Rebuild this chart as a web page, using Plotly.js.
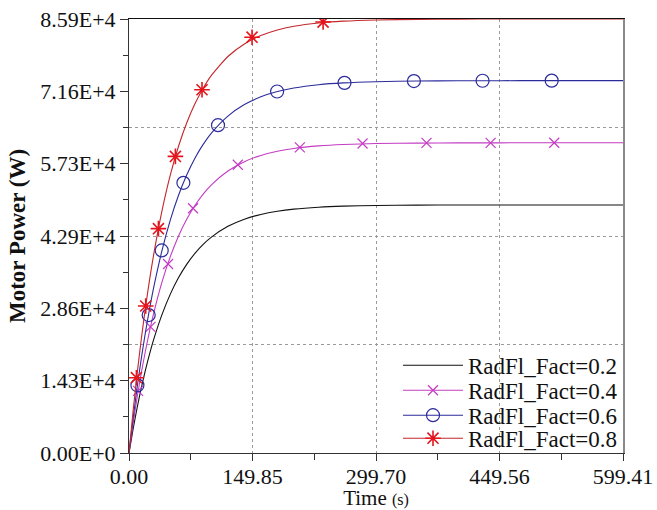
<!DOCTYPE html>
<html>
<head>
<meta charset="utf-8">
<script src="https://cdn.plot.ly/plotly-3.0.1.min.js"></script>
<style>
html,body{margin:0;padding:0;background:#fff;overflow:hidden;}
#chart{width:657px;height:510px;}
#chart svg text{font-family:"Liberation Serif",serif !important;}
</style>
</head>
<body>
<div id="chart"></div>
<script>
// ---- data ----
const seriesNames = ["RadFl_Fact=0.2", "RadFl_Fact=0.4", "RadFl_Fact=0.6", "RadFl_Fact=0.8"];
const time = [0,5,10,15,20,25,30,40,50,60,70,80,90,100,120,140,160,180,200,230,260,300,350,400,450,500,550,599.41];
const powerF02 = [0,4760,9060,12950,16450,19620,22480,27390,31400,34670,37330,39510,41280,42720,44860,46280,47220,47850,48270,48650,48860,48990,49060,49080,49100,49100,49100,49100];
const powerF04 = [0,5850,11130,15910,20240,24160,27700,33810,38810,42910,46260,49000,51250,53090,55830,57670,58900,59720,60280,60780,61060,61250,61340,61380,61390,61400,61400,61400];
const powerF06 = [0,6880,13130,18780,23910,28560,32770,40060,46050,50970,55020,58350,61080,63330,66690,68970,70500,71540,72240,72890,73250,73490,73620,73670,73690,73700,73700,73700];
const powerF08 = [0,8330,15860,22650,28790,34330,39330,47920,54940,60660,65310,69110,72210,74740,78480,80970,82620,83720,84450,85110,85470,85710,85830,85880,85890,85900,85900,85900];

const markTimeF04 = [11,26.1,47.4,77.7,132,207.3,283.4,361,438.8,516];
const markPowerF04 = [12300,24970,37400,48450,57050,60500,61250,61370,61390,61400];
const markTimeF06 = [10.2,23.9,39.7,66,108,179.7,261.5,345.7,429,512.9];
const markPowerF06 = [13400,27300,40100,53480,64880,71550,73260,73610,73680,73700];
const markTimeF08 = [9,20.3,35.7,56.3,88.6,149.3,235.5];
const markPowerF08 = [14900,29100,44400,58700,71900,82300,85300];

const xTickVals = [0,149.85,299.70,449.56,599.41];
const xTickText = ["0.00","149.85","299.70","449.56","599.41"];
const xMinorVals = [74.93,224.78,374.63,524.49];
const xGridVals = [149.85,299.70,449.56];
const yTickVals = [0,14316.7,28633.3,42950,57266.7,71583.3,85900];
const yTickText = ["0.00E+0","1.43E+4","2.86E+4","4.29E+4","5.73E+4","7.16E+4","8.59E+4"];
const yMinorVals = [7158.3,21475,35791.7,50108.3,64425,78741.7];
const yGridVals = [21475,42950,64425];
const xRange = [0,599.41];
const yRange = [0,85900];

// ---- styles ----
const FAMILY = "Liberation Serif";
const colors = ["#111111", "#c33cc3", "#2b2b9c", "#c4262b"];
const markerColors = ["#111111", "#c33cc3", "#2b2b9c", "#e3141c"];
const markerSymbols = ["circle", "x-thin-open", "circle-open", "asterisk-open"];
const markerSizes = [0, 10, 13, 13];
const legendIds = ["legend", "legend2", "legend3", "legend4"];
const legendRowY = [0.202, 0.1445, 0.087, 0.034];

const curves = [powerF02, powerF04, powerF06, powerF08];
const marks = [null, [markTimeF04, markPowerF04], [markTimeF06, markPowerF06], [markTimeF08, markPowerF08]];

function markerStyle(i) {
  return {symbol: markerSymbols[i], size: markerSizes[i], color: markerColors[i],
          line: {color: markerColors[i], width: i === 3 ? 1.6 : 1.2}};
}

const traces = [];
for (let i = 0; i < 4; i++) {
  traces.push({
    x: time, y: curves[i], type: "scatter", mode: "lines",
    line: {color: colors[i], width: 1.1, shape: "spline", smoothing: 0.6},
    showlegend: false, hoverinfo: "skip"
  });
  if (marks[i]) {
    traces.push({
      x: marks[i][0], y: marks[i][1], type: "scatter", mode: "markers",
      marker: markerStyle(i), showlegend: false, hoverinfo: "skip"
    });
  }
}
// legend entries (no visible points; they also create the overlay grid subplot)
for (let i = 0; i < 4; i++) {
  const t = {
    x: [null], y: [null], xaxis: "x2", yaxis: "y2", type: "scatter",
    mode: i === 0 ? "lines" : "lines+markers", name: seriesNames[i],
    line: {color: colors[i], width: 1.1}, hoverinfo: "skip", legend: legendIds[i]
  };
  if (i > 0) t.marker = markerStyle(i);
  traces.push(t);
}

const layout = {
  width: 657, height: 510,
  margin: {l: 129, r: 34, t: 19, b: 57},
  paper_bgcolor: "#ffffff", plot_bgcolor: "#ffffff",
  font: {family: FAMILY, color: "#111", size: 22},
  showlegend: true,
  xaxis: {
    range: xRange, tickmode: "array", tickvals: xTickVals, ticktext: xTickText,
    ticks: "outside", ticklen: 7, tickcolor: "#333", tickwidth: 1, ticklabelstandoff: -3,
    showline: true, linecolor: "#333", linewidth: 1, showgrid: false, zeroline: false,
    tickfont: {family: FAMILY, size: 22, color: "#111"},
    minor: {tickmode: "array", tickvals: xMinorVals, ticks: "outside", ticklen: 6, tickcolor: "#333", showgrid: false},
    title: {text: 'Time <span style="font-size:16px">(s)</span>', font: {family: FAMILY, size: 21, color: "#111"}, standoff: 6},
    automargin: false
  },
  yaxis: {
    range: yRange, tickmode: "array", tickvals: yTickVals, ticktext: yTickText,
    ticks: "outside", ticklen: 8, tickcolor: "#333", tickwidth: 1,
    showline: true, linecolor: "#333", linewidth: 1, showgrid: false, zeroline: false,
    tickfont: {family: FAMILY, size: 22, color: "#111"},
    minor: {tickmode: "array", tickvals: yMinorVals, ticks: "outside", ticklen: 5, tickcolor: "#333", showgrid: false},
    title: {text: "<b>Motor Power (W)</b>", font: {family: FAMILY, size: 23, color: "#111"}, standoff: 8},
    automargin: false
  },
  xaxis2: {
    overlaying: "x", side: "top", anchor: "y", range: xRange, tickmode: "array", tickvals: xGridVals,
    showgrid: true, gridcolor: "#9a9a9a", griddash: "dot", gridwidth: 1,
    showticklabels: false, ticks: "", showline: true, linecolor: "#111", zeroline: false
  },
  yaxis2: {
    overlaying: "y", side: "right", anchor: "x", range: yRange, tickmode: "array", tickvals: yGridVals,
    showgrid: true, gridcolor: "#9a9a9a", griddash: "dot", gridwidth: 1,
    showticklabels: false, ticks: "", showline: true, linecolor: "#8a8a8a", linewidth: 1.5, zeroline: false
  }
};
for (let i = 0; i < 4; i++) {
  layout[legendIds[i]] = {
    x: 1, xanchor: "right", y: legendRowY[i], yanchor: "middle", bgcolor: "rgba(0,0,0,0)",
    borderwidth: 0, font: {family: FAMILY, size: 23, color: "#111"}, itemwidth: 60
  };
}

Plotly.newPlot("chart", traces, layout, {displayModeBar: false, staticPlot: true});
</script>
</body>
</html>
